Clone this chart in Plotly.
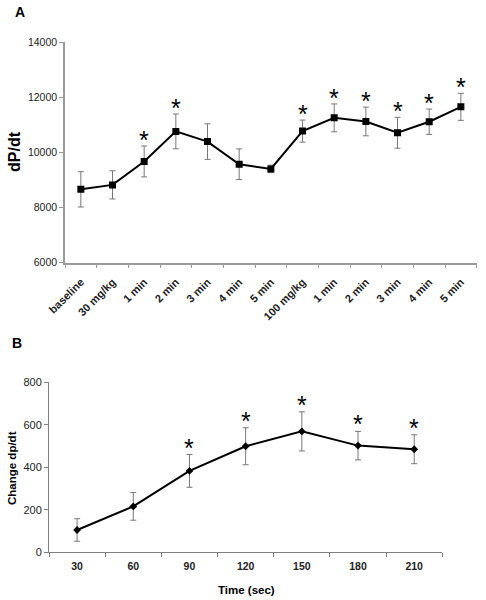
import plotly.graph_objects as go

# Panel A data
a_labels = ["baseline", "30 mg/kg", "1 min", "2 min", "3 min", "4 min", "5 min",
            "100 mg/kg", "1 min", "2 min", "3 min", "4 min", "5 min"]
a_mean = [8660, 8820, 9670, 10760, 10390, 9570, 9400,
          10770, 11250, 11120, 10710, 11110, 11650]
a_err = [640, 510, 560, 630, 645, 555, 135,
         400, 505, 520, 560, 460, 490]
a_sig = [False, False, True, True, False, False, False,
         True, True, True, True, True, True]

# Panel B data
b_time = [30, 60, 90, 120, 150, 180, 210]
b_mean = [105, 216, 383, 499, 569, 502, 485]
b_err = [53, 65, 77, 87, 92, 67, 68]
b_sig = [False, False, True, True, True, True, True]

FONT = "Liberation Sans, Arial, sans-serif"
a_x = list(range(len(a_labels)))

fig = go.Figure()
fig.add_trace(go.Scatter(
    x=a_x, y=a_mean, mode="lines+markers",
    line=dict(color="black", width=2),
    marker=dict(symbol="square", size=7, color="black"),
    error_y=dict(type="data", array=a_err, visible=True, color="#777777",
                 thickness=1, width=3),
    xaxis="x", yaxis="y", showlegend=False))
fig.add_trace(go.Scatter(
    x=b_time, y=b_mean, mode="lines+markers",
    line=dict(color="black", width=2),
    marker=dict(symbol="diamond", size=6, color="black"),
    error_y=dict(type="data", array=b_err, visible=True, color="#777777",
                 thickness=1, width=3),
    xaxis="x2", yaxis="y2", showlegend=False))

ann = []
for x, m, e, s in zip(a_x, a_mean, a_err, a_sig):
    if s:
        ann.append(dict(x=x, y=m + e, xref="x", yref="y", text="*", showarrow=False,
                        yanchor="middle", yshift=6, font=dict(size=25, family=FONT, color="black")))
for x, m, e, s in zip(b_time, b_mean, b_err, b_sig):
    if s:
        ann.append(dict(x=x, y=m + e, xref="x2", yref="y2", text="*", showarrow=False,
                        yanchor="middle", yshift=7, font=dict(size=25, family=FONT, color="black")))

ann += [
    dict(x=20 / 486, y=1 - 12 / 600, xref="paper", yref="paper", text="<b>A</b>",
         showarrow=False, xanchor="center", yanchor="middle", font=dict(size=14, family=FONT, color="black")),
    dict(x=17 / 486, y=1 - 343 / 600, xref="paper", yref="paper", text="<b>B</b>",
         showarrow=False, xanchor="center", yanchor="middle", font=dict(size=14, family=FONT, color="black")),
    dict(x=14 / 486, y=1 - 152 / 600, xref="paper", yref="paper", text="<b>dP/dt</b>", textangle=-90,
         showarrow=False, xanchor="center", yanchor="middle", font=dict(size=16, family=FONT, color="black")),
    dict(x=12 / 486, y=1 - 468 / 600, xref="paper", yref="paper", text="<b>Change dp/dt</b>", textangle=-90,
         showarrow=False, xanchor="center", yanchor="middle", font=dict(size=11.5, family=FONT, color="black")),
    dict(x=246 / 486, y=1 - 590 / 600, xref="paper", yref="paper", text="<b>Time (sec)</b>",
         showarrow=False, xanchor="center", yanchor="middle", font=dict(size=11.5, family=FONT, color="black")),
]

fig.update_layout(
    width=486, height=600,
    margin=dict(l=0, r=0, t=0, b=0, autoexpand=False),
    paper_bgcolor="white", plot_bgcolor="white",
    font=dict(family=FONT, color="#222222"),
    annotations=ann,
    xaxis=dict(domain=[65 / 486, 476.7 / 486], anchor="y", range=[-0.5, 12.5], automargin=False,
               tickmode="array", tickvals=a_x, ticktext=["<b>%s</b>" % t for t in a_labels],
               tickangle=-45, tickfont=dict(size=11, family=FONT, color="#222222"),
               ticklabelstandoff=7,
               ticks="", showline=True, linecolor="#9a9a9a", linewidth=1.5, showgrid=False,
               zeroline=False,
               minor=dict(tickmode="linear", tick0=-0.5, dtick=1, ticks="outside",
                          ticklen=4, tickcolor="#9a9a9a", tickwidth=1)),
    yaxis=dict(domain=[1 - 262.7 / 600, 1 - 42 / 600], anchor="x", range=[6000, 14000], automargin=False,
               tickmode="linear", tick0=6000, dtick=2000, tickformat="d",
               tickfont=dict(size=10.5, family=FONT, color="#222222"),
               ticks="outside", ticklen=4, tickcolor="#9a9a9a",
               showline=True, linecolor="#9a9a9a", linewidth=1.5, showgrid=False, zeroline=False),
    xaxis2=dict(domain=[49 / 486, 442.3 / 486], anchor="y2", range=[15, 225], automargin=False,
                tickmode="array", tickvals=b_time, ticktext=["<b>%d</b>" % t for t in b_time],
                tickfont=dict(size=10.5, family=FONT, color="#222222"),
                ticklabelstandoff=4,
                ticks="", showline=True, linecolor="#808080", linewidth=1, showgrid=False,
                zeroline=False,
                minor=dict(tickmode="linear", tick0=15, dtick=30, ticks="outside",
                           ticklen=4, tickcolor="#808080", tickwidth=1)),
    yaxis2=dict(domain=[1 - 552.3 / 600, 1 - 382.3 / 600], anchor="x2", range=[0, 800], automargin=False,
                tickmode="linear", tick0=0, dtick=200,
                tickfont=dict(size=11, family=FONT, color="#222222"),
                ticks="outside", ticklen=4, tickcolor="#808080",
                showline=True, linecolor="#808080", linewidth=1, showgrid=False, zeroline=False),
)

fig.write_html("out.html", config={"displayModeBar": False},
               post_script="document.body.style.margin='0';document.body.style.overflow='hidden';")
